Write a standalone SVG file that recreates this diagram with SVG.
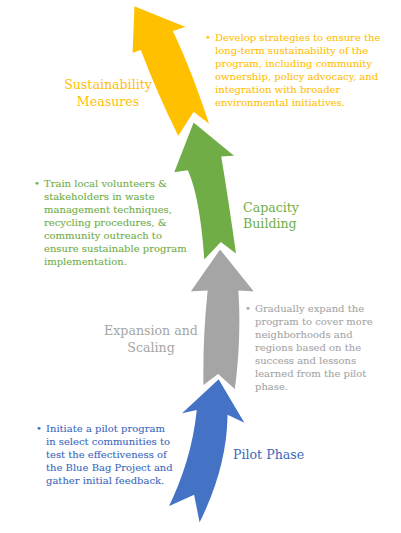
<svg xmlns="http://www.w3.org/2000/svg" width="401" height="533" viewBox="0 0 401 533">
<style>
.arrow{stroke:#fff;stroke-width:3;stroke-linejoin:miter}
text{font-family:"DejaVu Serif","Liberation Serif",serif}
.y{fill:#FFC000}.g{fill:#70AD47}.s{fill:#A5A5A5}.b{fill:#4472C4}
.ty{fill:#FFC000;stroke:#FFC000}.tg{fill:#70AD47;stroke:#70AD47}.ts{fill:#A5A5A5;stroke:#A5A5A5}.bt{fill:#3B68BD;stroke:#3B68BD}
text.title{font-size:12.6px;stroke:none}
g.body{font-size:10px;stroke-width:0.1}
</style>
<rect width="401" height="533" fill="#fff"/>
<g id="connectors">
<path class="arrow y" d="M133,4 L190,27 L175,32 Q194,72 212,128 L194,114 L178,139 Q155,92 140,52 L131,55 Z"/>
<path class="arrow g" d="M193,120 L238,157 L223,158 Q230,200 238,257 L221,244 L203,263 Q199,200 187,172 L172,174 Z"/>
<path class="arrow s" d="M220,247 L257,293 L240,292 Q243,340 236,392 L218,376 L202,388 Q201,340 206,292 L188,293 Z"/>
<path class="arrow b" d="M219,377 L248,426 L229,417 Q228,470 199,527 L193,497 L166,509 Q190,460 195,412 L177,416 Z"/>
</g>
<g id="sustainability">
<text class="title ty" x="108" y="89" text-anchor="middle">Sustainability</text>
<text class="title ty" x="108" y="106" text-anchor="middle">Measures</text>
<g class="body ty">
<text x="205" y="41">•</text>
<text x="215" y="41">Develop strategies to ensure the</text>
<text x="215" y="54">long-term sustainability of the</text>
<text x="215" y="67">program, including community</text>
<text x="215" y="80">ownership, policy advocacy, and</text>
<text x="215" y="93">integration with broader</text>
<text x="215" y="106">environmental initiatives.</text>
</g>
</g>
<g id="capacity">
<text class="title tg" x="243" y="212">Capacity</text>
<text class="title tg" x="243" y="228">Building</text>
<g class="body tg">
<text x="34" y="187">•</text>
<text x="44" y="187">Train local volunteers &amp;</text>
<text x="44" y="200">stakeholders in waste</text>
<text x="44" y="213">management techniques,</text>
<text x="44" y="226">recycling procedures, &amp;</text>
<text x="44" y="239">community outreach to</text>
<text x="44" y="252">ensure sustainable program</text>
<text x="44" y="265">implementation.</text>
</g>
</g>
<g id="expansion">
<text class="title ts" x="151" y="335" text-anchor="middle">Expansion and</text>
<text class="title ts" x="151" y="352" text-anchor="middle">Scaling</text>
<g class="body ts">
<text x="245" y="312">•</text>
<text x="255" y="312">Gradually expand the</text>
<text x="255" y="325">program to cover more</text>
<text x="255" y="338">neighborhoods and</text>
<text x="255" y="351">regions based on the</text>
<text x="255" y="364">success and lessons</text>
<text x="255" y="377">learned from the pilot</text>
<text x="255" y="390">phase.</text>
</g>
</g>
<g id="pilot">
<text class="title bt" x="233" y="459">Pilot Phase</text>
<g class="body bt">
<text x="36" y="432">•</text>
<text x="46" y="432">Initiate a pilot program</text>
<text x="46" y="445">in select communities to</text>
<text x="46" y="458">test the effectiveness of</text>
<text x="46" y="471">the Blue Bag Project and</text>
<text x="46" y="484">gather initial feedback.</text>
</g>
</g>
</svg>
